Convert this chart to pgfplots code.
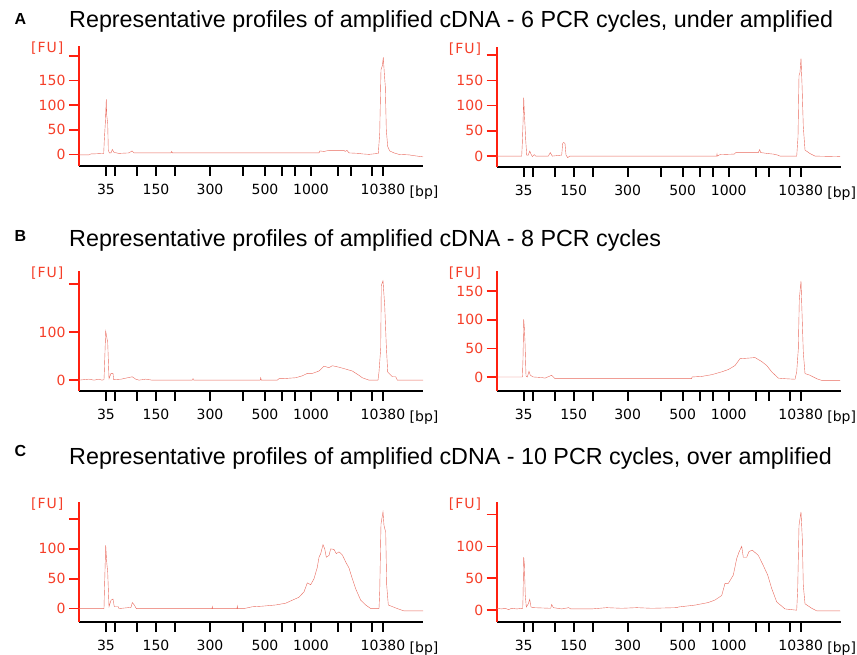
\documentclass[border=0pt]{standalone}
\usepackage{fontspec}
\setmainfont{Liberation Sans}
\newfontfamily\tickfamily{DejaVu Sans}
\usepackage{pgfplots}
\pgfplotsset{compat=1.18}

\definecolor{spine}{RGB}{255,32,16}
\definecolor{labred}{RGB}{245,62,40}
\definecolor{trace}{RGB}{232,104,92}

\newcommand{\tickfont}{\tickfamily\fontsize{14}{16}\selectfont}
\newcommand{\titlefont}{\fontsize{23.3}{26}\selectfont}
\newcommand{\letterfont}{\bfseries\fontsize{16}{18}\selectfont}

\pgfplotsset{
  bio/.style={
    scale only axis, width=344pt, height=120pt,
    xmin=0, xmax=344,
    axis x line*=bottom, axis y line*=left,
    x axis line style={-, black, line width=1.8pt},
    y axis line style={-, spine, line width=1.8pt},
    tick align=outside, major tick length=10pt,
    xtick={27,36,58,77,96,131,164,186,203,216,232,259,272,293,304},
    xticklabels={35,,,150,,300,,500,,,1000,,,,10380},
    xtick style={black, line width=1.6pt},
    ytick style={spine, line width=1.6pt},
    xticklabel style={text=black, font=\tickfont, anchor=base, yshift=-19pt},
    yticklabel style={text=labred, font=\tickfont},
    /pgf/number format/assume math mode=true,
    cycle list={{trace, line width=1.2pt, mark=none}},
    clip=false,
    extra description/.code={
      \node[anchor=east, text=labred, font=\tickfont] at ([xshift=-12pt,yshift=-2pt]rel axis cs:0,1) {[\kern1pt F\kern1pt U\kern1pt]};
      \node[anchor=base, font=\tickfont] at ([xshift=1pt,yshift=-31pt]rel axis cs:1,0) {[bp]};
    },
  },
}

\begin{document}
\begin{tikzpicture}
\path[use as bounding box] (0,0) rectangle (857pt,655pt);

% titles
\node[anchor=base west, font=\letterfont] at (11pt,630pt) {A};
\node[anchor=base west, font=\titlefont] at (65.7pt,627.7pt) {Representative profiles of amplified cDNA - 6 PCR cycles, under amplified};
\node[anchor=base west, font=\letterfont] at (11pt,413.3pt) {B};
\node[anchor=base west, font=\titlefont] at (65.7pt,408.3pt) {Representative profiles of amplified cDNA - 8 PCR cycles};
\node[anchor=base west, font=\letterfont] at (11pt,198pt) {C};
\node[anchor=base west, font=\titlefont] at (65.7pt,190pt) {Representative profiles of amplified cDNA - 10 PCR cycles, over amplified};

% A, left
\begin{axis}[bio, at={(79pt,489.3pt)}, anchor=south west,
  ymin=-23, ymax=221, ytick={0,50,100,150,200}, yticklabels={0,50,100,150,{}}]
\addplot coordinates {(0,-1)(10,-1)(12,1)(15,1)(24.7,2)(25.3,29)(26.3,63)(27.3,112)(27.7,80)(28.7,63)(29.3,9)(30.3,3)
(32,3)(33.3,10)(35,4)(40,2)(50,3)(53,7)(55,3)(92,3)(92.7,6)(93.3,3)(240,3)(241,7)(245,6)(250,8)(260,8)(265,8)(266,6)(268,8)(270,3)
(280,2)(283,1)(290,0)(299.3,2)(300.7,43)(302,172)(303.3,180)(304.3,197)(305.3,165)(306.3,138)(307.3,50)(308.7,16)(310.7,7)(315,3)
(320,0)(330,-1)(333,-2)(340,-4)(344,-5)};
\end{axis}

% A, right
\begin{axis}[bio, at={(496.7pt,488.3pt)}, anchor=south west,
  ymin=-21, ymax=217, ytick={0,50,100,150,200}, yticklabels={0,50,100,150,{}}]
\addplot coordinates {(0,0)(25,0)(25.6,25)(26.3,64)(27,116)(27.6,87)(28.3,61)(29,32)(30,2)(31.6,2)(33,10)(34.3,4)(35.6,-1)
(37.6,3)(39,0)(51.6,0)(53.6,7)(55.6,0)(65,2)(66,25)(67,27)(68.3,25)(69.3,2)(71,-3)(73,0)(220,0)(220.3,4)(220.6,0)(223.3,3)
(237.6,4)(239,7)(261.6,7)(263,13)(264,7)(271.6,5)(276.6,4)(281,2)(283.3,0)(300,0)(301.3,38)(302.3,160)(303.3,166)(304.3,194)
(305.3,143)(306.6,58)(308.3,12)(313.3,5)(318.3,0)(343.3,-1)};
\end{axis}

% B, left
\begin{axis}[bio, at={(79pt,264.3pt)}, anchor=south west,
  ymin=-22, ymax=228, ytick={0,100,200}, yticklabels={0,100,{}}]
\addplot coordinates {(0,0)(10,2)(15,0)(20,2)(23,0)(25,1)(25.3,17)(26.7,102)(27.7,90)(28.7,79)(30,3)(32,14)(34,14)(34.7,1)
(42,2)(53.3,7)(56.7,2)(60,0)(66.7,2)(73,0)(113.3,0)(114,3)(114.7,0)(181.3,0)(181.7,5)(182.3,0)(198.3,0)(200,3)(203.3,3)
(216.7,5)(223.3,9)(228.3,14)(233.3,14)(240,19)(245,29)(250,26)(253.3,30)(260,27)(266.7,23)(273.3,19)(280,10)(283.3,5)(290,0)
(299,0)(300,17)(301.7,66)(302.3,197)(304,207)(305.7,155)(307.3,72)(308.7,17)(313.3,7)(316.7,7)(318.3,0)(344,0)};
\end{axis}

% B, right
\begin{axis}[bio, at={(496.7pt,264.3pt)}, anchor=south west,
  ymin=-24, ymax=186, ytick={0,50,100,150}, yticklabels={0,50,100,150}]
\addplot coordinates {(0,0)(25.7,0)(26.3,32)(27,101)(27.6,87)(28.3,61)(29.3,2)(30.6,0)(32.3,10)(33.6,3)(36.6,0)(45,-1)
(48.3,-2)(55,3)(58.3,-3)(195,-3)(195.3,0)(205,1)(215,4)(225,9)(231.6,13)(238.3,20)(243.3,32)(251.6,33)(258.3,34)(265,27)
(270,20)(275,9)(281.6,-2)(288.3,-3)(298.3,-4)(300,9)(301.6,49)(302.6,136)(304.3,168)(305.6,96)(306.6,43)(308.3,6)(313.3,3)
(320,-3)(325,-6)(343.3,-6)};
\end{axis}

% C, left
\begin{axis}[bio, at={(79pt,33.3pt)}, anchor=south west,
  ymin=-22, ymax=179, ytick={0,50,100,150}, yticklabels={0,50,100,{}}]
\addplot coordinates {(0,0)(25,0)(25.3,22)(26.7,106)(27.7,78)(28.7,61)(30,3)(32,14)(34,16)(35.3,3)(39.3,3)(40,0)(52,2)
(53.3,10)(55.3,6)(57.3,0)(133,0)(133.3,3)(133.7,0)(158,0)(158.3,4)(158.7,0)(165,0)(173.3,3)(183.3,4)(196.7,6)(206.7,9)
(213.3,14)(220,19)(225,28)(228.3,43)(231.7,40)(235,50)(238.3,69)(240,86)(241.7,92)(244,107)(245.7,100)(247.3,86)(250,89)
(251.7,100)(255,99)(257.3,92)(260,95)(263.3,90)(266.7,78)(270,68)(273.3,50)(276.7,33)(281.7,14)(286.7,6)(291.7,0)(300,0)
(300.7,28)(302,142)(304,162)(305,139)(306.7,128)(307.7,39)(309.3,6)(316.7,1)(323.3,-3)(325,-4)(344,-4)};
\end{axis}

% C, right
\begin{axis}[bio, at={(496.7pt,33.3pt)}, anchor=south west,
  ymin=-18, ymax=170, ytick={0,50,100,150}, yticklabels={0,50,100,{}}]
\addplot coordinates {(0,3)(5,2)(8,3)(12,1)(15,3)(20,2)(26,3)(26.3,18)(27,83)(27.6,73)(28.6,23)(29.6,5)(31.6,10)(33,17)
(34.3,5)(36.6,4)(54,3)(55,9)(56.6,4)(65,2)(72,4)(74,2)(95,2)(110,4)(125,3)(140,4)(155,3)(180,4)(181.6,5)(198.3,8)(211.6,12)
(218.3,16)(225,23)(228.3,42)(231.6,42)(236.6,55)(240,81)(242.3,91)(245,100)(246.6,83)(250,83)(252.3,92)(255.6,94)(261.6,86)
(266.6,70)(271,55)(275,34)(280,13)(288.3,2)(300,0)(301,34)(302.3,133)(304.3,154)(305.6,112)(306.6,39)(308.3,10)(315,3)
(320,-1)(343.3,-1)};
\end{axis}
\end{tikzpicture}
\end{document}
